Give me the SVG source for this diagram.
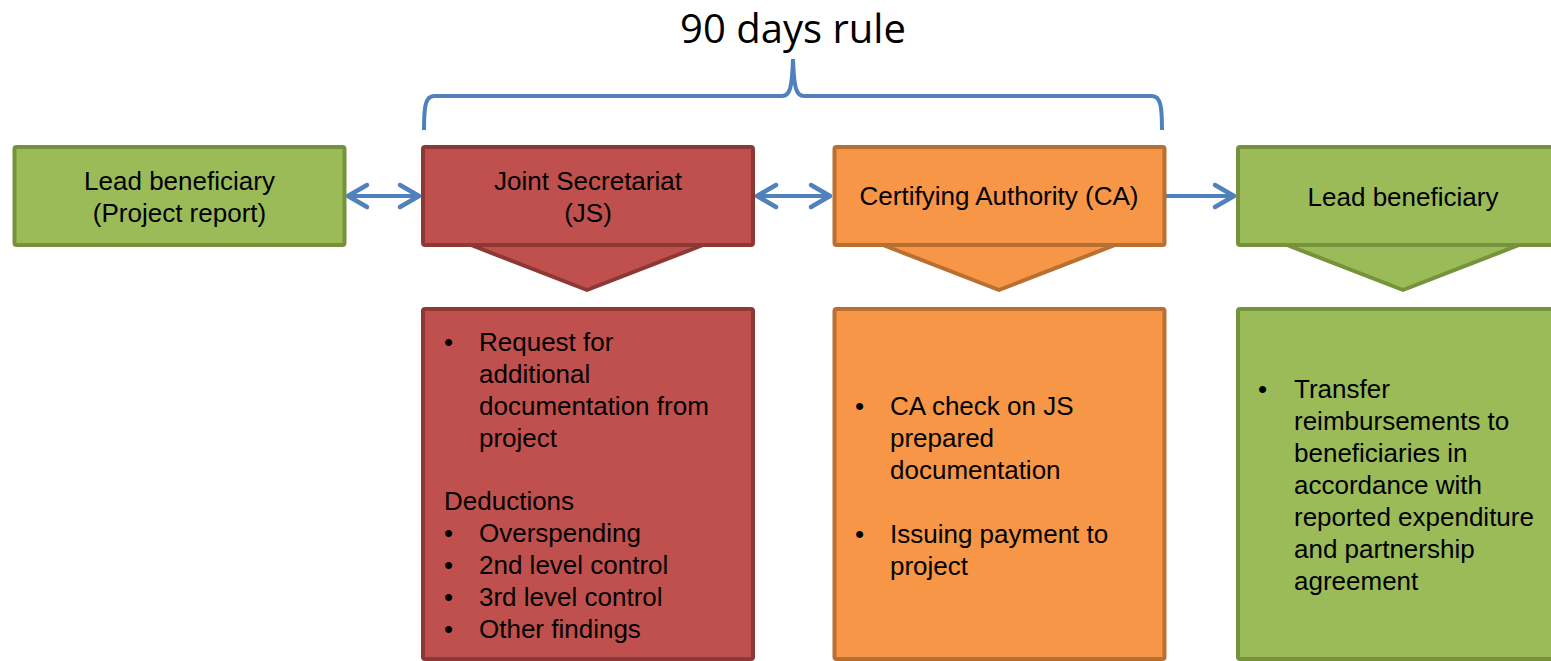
<svg xmlns="http://www.w3.org/2000/svg" width="1551" height="661" viewBox="0 0 1551 661">
<style>
  text { font-family: "Liberation Sans", Arial, sans-serif; font-size: 26px; fill: #000; }
  .title { font-family: "Open Sans", "Liberation Sans", sans-serif; font-size: 40px; }
  .c { text-anchor: middle; }
  .green { fill: #9BBB59; stroke: #76923C; stroke-width: 4; stroke-linejoin: round; }
  .red { fill: #C0504D; stroke: #8E3835; stroke-width: 4; stroke-linejoin: round; }
  .orange { fill: #F79646; stroke: #B86F32; stroke-width: 4; stroke-linejoin: round; }
  .conn { fill: none; stroke: #4F81BD; stroke-width: 4; }
</style>
<defs>
  <marker id="ah" markerUnits="userSpaceOnUse" viewBox="-26 -16 30 32" markerWidth="30" markerHeight="32" refX="0" refY="0" orient="auto-start-reverse">
    <path d="M-19,-11 L0,0 L-19,11" fill="none" stroke="#4F81BD" stroke-width="4.5" stroke-linecap="round" stroke-linejoin="round"/>
  </marker>
</defs>
<rect width="1551" height="661" fill="#fff"/>

<g id="title">
  <text class="title c" x="793" y="43">90 days rule</text>
</g>

<g id="connectors">
  <path id="bracket" class="conn" d="M424,130 C424,108 425,96 434,96 L782,96 C790,96 792,88 793,59 C794,88 796,96 804,96 L1152,96 C1161,96 1162,108 1162,130"/>
  <line class="conn" x1="348" y1="196" x2="419" y2="196" marker-start="url(#ah)" marker-end="url(#ah)"/>
  <line class="conn" x1="757" y1="196" x2="830" y2="196" marker-start="url(#ah)" marker-end="url(#ah)"/>
  <line class="conn" x1="1166" y1="196" x2="1234" y2="196" marker-end="url(#ah)"/>
</g>

<g id="lb-report">
  <rect class="green" x="14.5" y="147" width="330" height="98" rx="2"/>
  <text class="c" x="179.5" y="190">Lead beneficiary</text>
  <text class="c" x="179.5" y="222">(Project report)</text>
</g>

<g id="js">
  <polygon class="red" points="471,245 587,290 703,245"/>
  <rect class="red" x="423" y="147" width="330" height="98" rx="2"/>
  <text class="c" x="588" y="190">Joint Secretariat</text>
  <text class="c" x="588" y="222">(JS)</text>
</g>

<g id="ca">
  <polygon class="orange" points="883,245 999,290 1115,245"/>
  <rect class="orange" x="834.5" y="147" width="330" height="98" rx="2"/>
  <text class="c" x="999" y="205">Certifying Authority (CA)</text>
</g>

<g id="lb">
  <polygon class="green" points="1287,245 1403,290 1519,245"/>
  <rect class="green" x="1238" y="147" width="330" height="98" rx="2"/>
  <text class="c" x="1403" y="206">Lead beneficiary</text>
</g>

<g id="js-details">
  <rect class="red" x="423" y="309" width="330" height="350" rx="2"/>
  <text x="444" y="351">•</text><text x="479" y="351">Request for</text>
  <text x="479" y="383">additional</text>
  <text x="479" y="415">documentation from</text>
  <text x="479" y="447">project</text>
  <text x="444" y="510">Deductions</text>
  <text x="444" y="542">•</text><text x="479" y="542">Overspending</text>
  <text x="444" y="574">•</text><text x="479" y="574">2nd level control</text>
  <text x="444" y="606">•</text><text x="479" y="606">3rd level control</text>
  <text x="444" y="638">•</text><text x="479" y="638">Other findings</text>
</g>

<g id="ca-details">
  <rect class="orange" x="834.5" y="309" width="330" height="350" rx="2"/>
  <text x="855" y="415">•</text><text x="890" y="415">CA check on JS</text>
  <text x="890" y="447">prepared</text>
  <text x="890" y="479">documentation</text>
  <text x="855" y="543">•</text><text x="890" y="543">Issuing payment to</text>
  <text x="890" y="575">project</text>
</g>

<g id="lb-details">
  <rect class="green" x="1238" y="309" width="330" height="350" rx="2"/>
  <text x="1258" y="398">•</text><text x="1294" y="398">Transfer</text>
  <text x="1294" y="430">reimbursements to</text>
  <text x="1294" y="462">beneficiaries in</text>
  <text x="1294" y="494">accordance with</text>
  <text x="1294" y="526">reported expenditure</text>
  <text x="1294" y="558">and partnership</text>
  <text x="1294" y="590">agreement</text>
</g>
</svg>
